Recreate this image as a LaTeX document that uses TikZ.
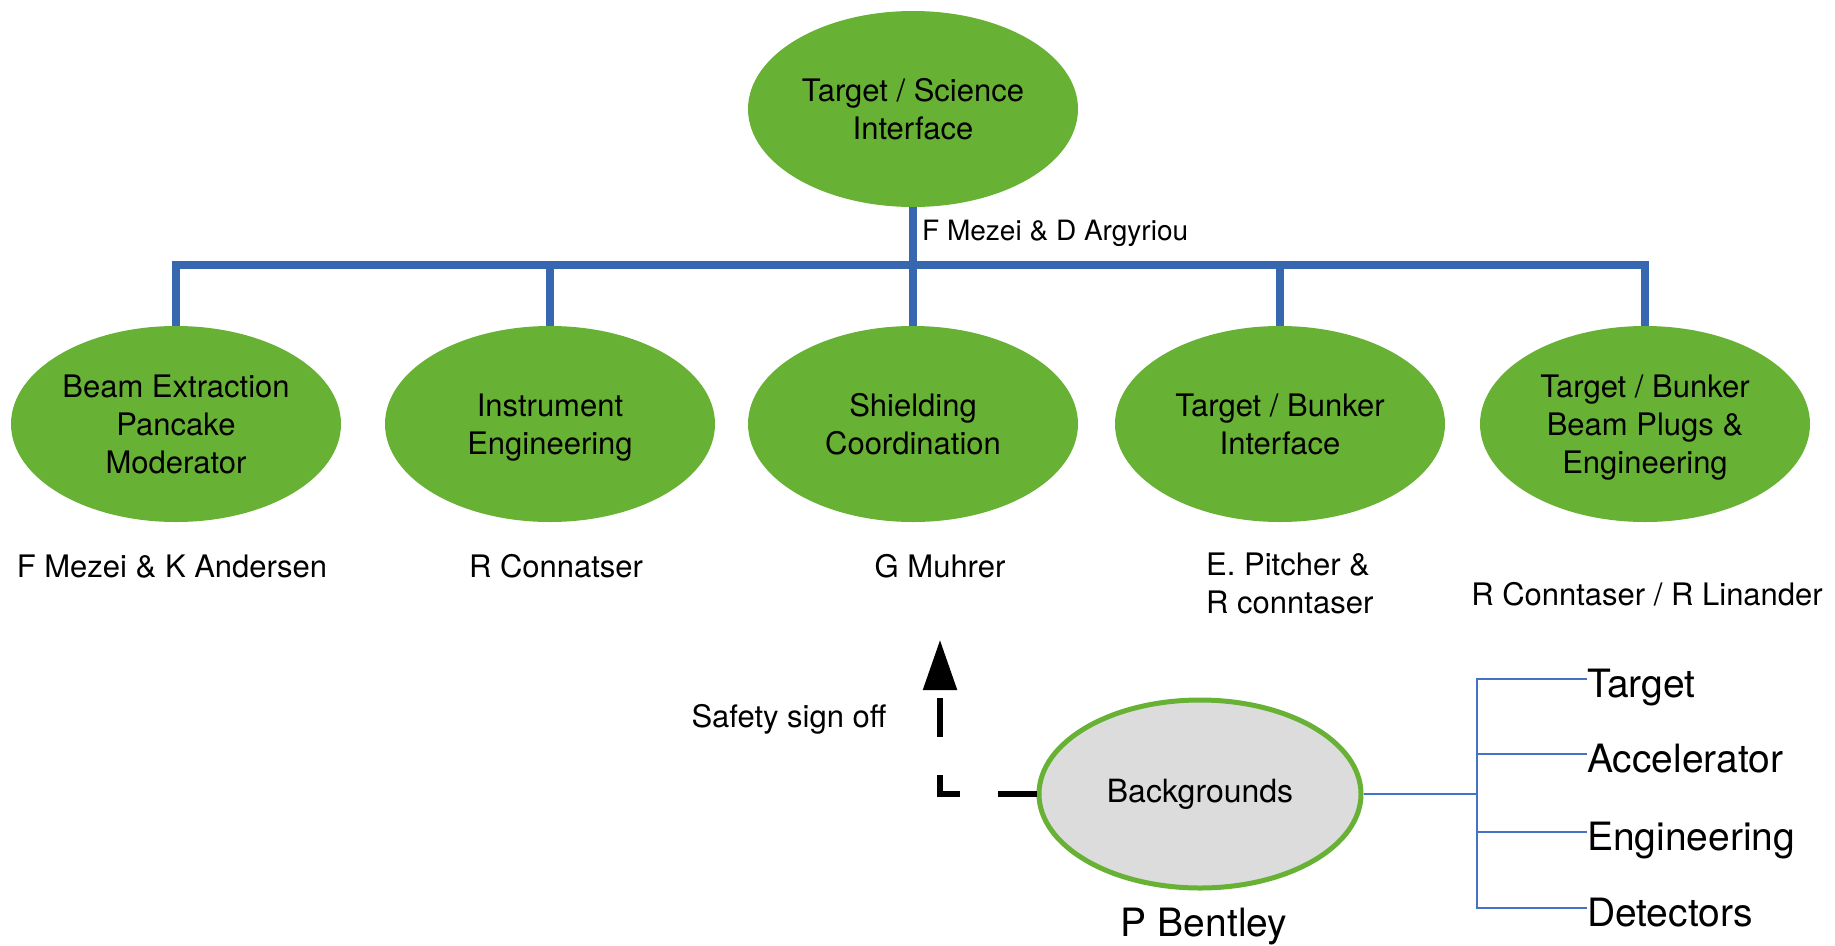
\documentclass[tikz,border=0pt]{standalone}
\usepackage{fontspec}
\setmainfont{TeX Gyre Heros}
\usetikzlibrary{shapes.geometric,arrows.meta}
\definecolor{leafgreen}{HTML}{67B135}
\definecolor{busblue}{HTML}{3867B1}
\definecolor{fanblue}{HTML}{4472C4}
\definecolor{bggray}{HTML}{DCDCDC}

\begin{document}
\begin{tikzpicture}[x=1pt,y=-1pt,
  group/.style={ellipse,fill=leafgreen,minimum width=330pt,minimum height=196pt,inner sep=0pt,align=center,font=\fontsize{31}{38}\selectfont},
  lead/.style={anchor=base,inner sep=0pt,font=\fontsize{31}{38}\selectfont},
  topic/.style={anchor=west,inner sep=0pt,text height=37pt,text depth=0pt,font=\fontsize{39}{44}\selectfont},
  bus/.style={busblue,line width=7.5pt},
  fan/.style={fanblue,line width=1.3pt}]
\useasboundingbox (0,0) rectangle (1835,945);
\node[group] (science) at (913,109) {Target / Science\\Interface};
\node[group] (extract) at (176,424) {Beam Extraction\\Pancake\\Moderator};
\node[group] (instr) at (550,424) {Instrument\\\raisebox{0pt}[\height][0pt]{Engineering}};
\node[group] (shield) at (913,424) {Shielding\\Coordination};
\node[group] (bunker) at (1280,424) {Target / Bunker\\Interface};
\node[group] (plugs) at (1645,424) {Target / Bunker\\Beam Plugs \&\\\raisebox{0pt}[\height][0pt]{Engineering}};
\draw[bus] (extract.north) -- ++(0,-61) -| (plugs.north);
\foreach \n in {instr,bunker} \draw[bus] (\n.north) -- ++(0,-61);
\draw[bus] (science.south) -- (shield.north);
\node[lead,anchor=base west,font=\fontsize{28}{34}\selectfont] (sciencelead) at (922,240) {F Mezei \& D Argyriou};
\node[lead] (extractlead) at (172,577) {F Mezei \& K Andersen};
\node[lead] (instrlead) at (556,577) {R Connatser};
\node[lead] (shieldlead) at (940,577) {G Muhrer};
\node[lead,anchor=west,align=left] (bunkerlead) at (1206,583) {E. Pitcher \&\\R conntaser};
\node[lead] (plugslead) at (1647,605) {R Conntaser / R Linander};
\node[ellipse,draw=leafgreen,line width=5pt,fill=bggray,minimum width=322pt,minimum height=188pt,inner sep=0pt,font=\fontsize{32}{38}\selectfont] (bg) at (1200,794) {Backgrounds};
\node[anchor=base,inner sep=0pt,font=\fontsize{39}{44}\selectfont] (bglead) at (1204,936) {P Bentley};
\node[lead] (signoff) at (789,727) {Safety sign off};
\coordinate (turn) at (940,794);
\coordinate (tip) at (940,640);
\draw[line width=5.5pt,dash pattern=on 39pt off 38pt,-{Triangle[width=33pt,length=50pt]}] (bg.west) -- (turn) -- (tip);
\coordinate (split) at (1477,794);
\draw[fan,line width=2pt] (bg.east) -- (split);
\node[topic] (tgt) at (1587,679) {Target};
\node[topic] (acc) at (1587,754) {Accelerator};
\node[topic] (eng) at (1587,832) {Engineering};
\node[topic] (det) at (1587,908) {Detectors};
\foreach \t in {tgt,acc,eng,det} \draw[fan] (split) |- (\t.west);
\end{tikzpicture}
\end{document}
